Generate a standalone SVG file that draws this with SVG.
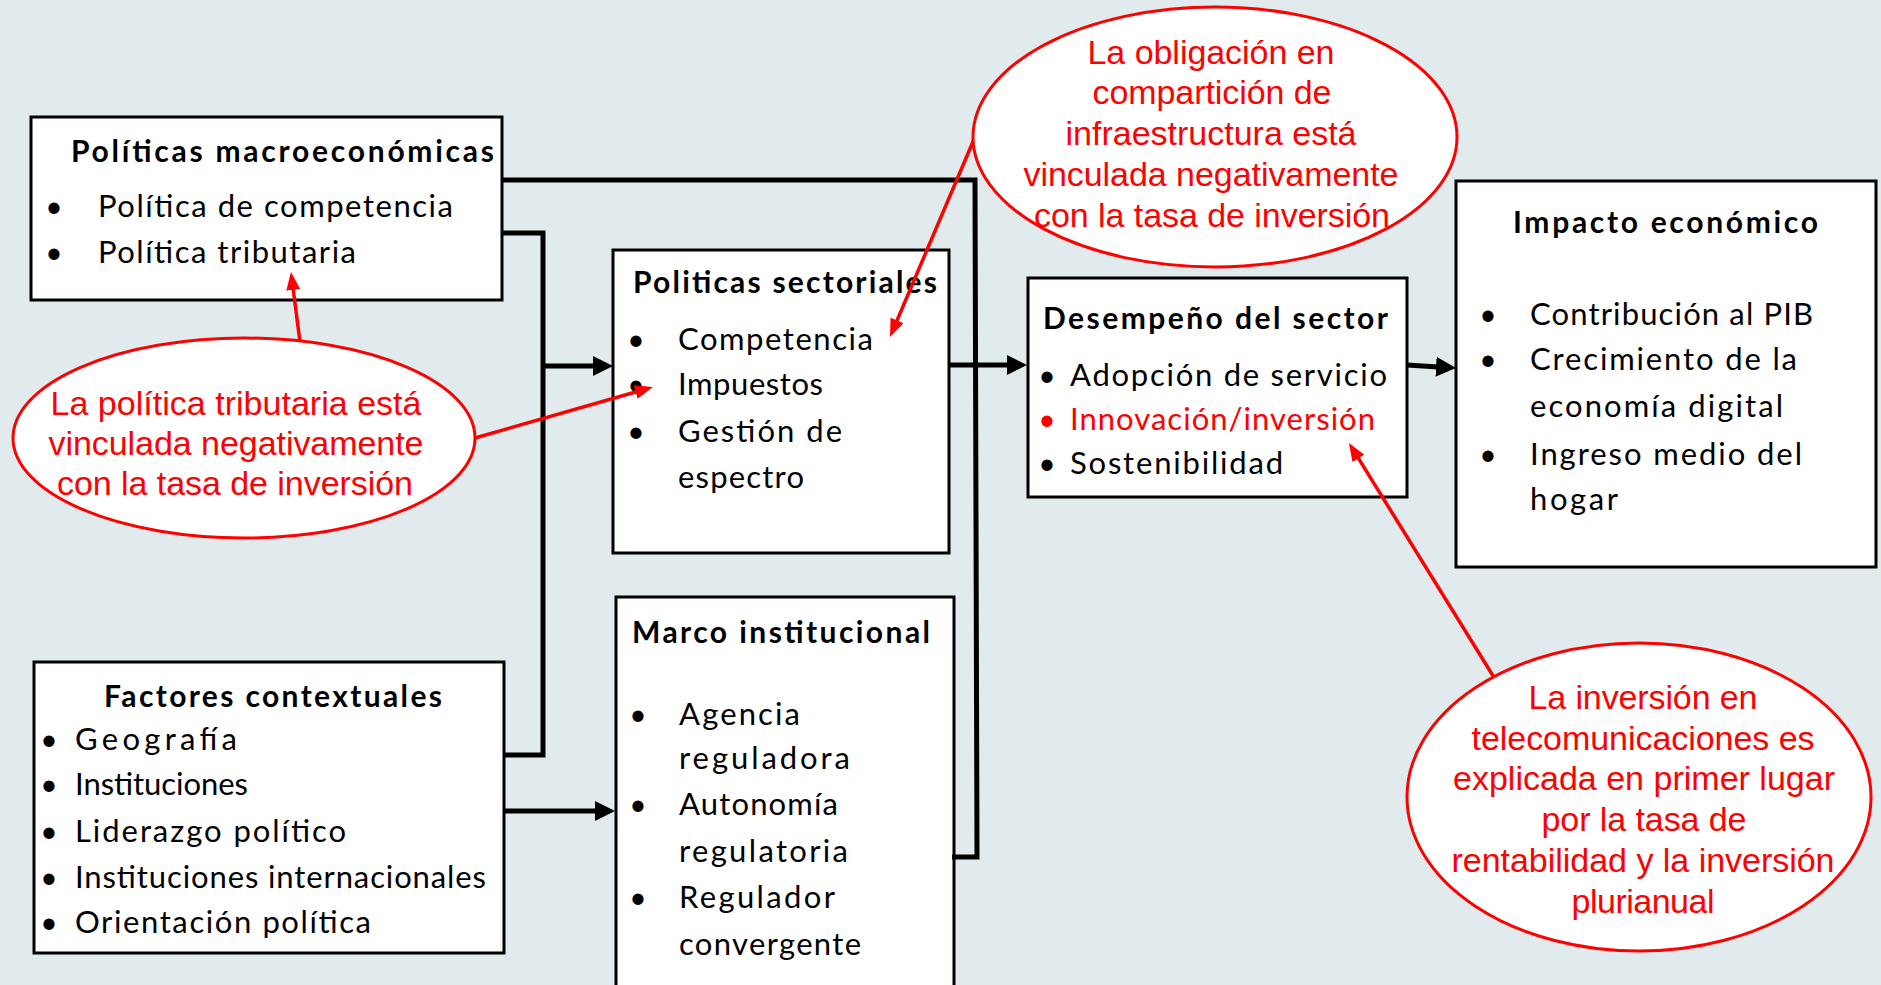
<svg xmlns="http://www.w3.org/2000/svg" width="1881" height="985" viewBox="0 0 1881 985">
<style>
.box{fill:#fff;stroke:#000;stroke-width:3}
.t{font-family:Lato,"Open Sans","Liberation Sans",sans-serif;font-size:31px;fill:#000}
.b{font-weight:bold;font-size:30px}
.red{fill:#ff0000}
.bul{font-family:Lato,"Liberation Sans",sans-serif;font-size:30px;text-anchor:middle}
.ell{fill:#fff;stroke:#ff0000;stroke-width:3}
.et{font-family:"Liberation Sans",Arial,sans-serif;font-size:34px;fill:#ff0000;text-anchor:middle}
.con{fill:none;stroke:#000;stroke-width:5}
.rc{fill:none;stroke:#ff0000;stroke-width:3.5}
</style>
<defs>
<marker id="ab" viewBox="0 0 20 20" markerWidth="20" markerHeight="20" refX="10" refY="10" orient="auto" markerUnits="userSpaceOnUse"><path d="M0,0 L20,10 L0,20 z" fill="#000"/></marker>
<marker id="ar" viewBox="0 0 18 14" markerWidth="18" markerHeight="14" refX="9" refY="7" orient="auto" markerUnits="userSpaceOnUse"><path d="M0,0 L18,7 L0,14 z" fill="#ff0000"/></marker>
</defs>
<rect x="0" y="0" width="1881" height="985" fill="#e1eaed"/>

<g id="macro">
<rect class="box" x="31" y="117" width="471" height="183"/>
<text class="t b" x="71" y="162" textLength="423">Políticas macroeconómicas</text>
<text class="bul" x="54" y="217">•</text>
<text class="t" x="98" y="217" textLength="355">Política de competencia</text>
<text class="bul" x="54" y="263">•</text>
<text class="t" x="98" y="263" textLength="258">Política tributaria</text>
</g>

<g id="sectoriales">
<rect class="box" x="613" y="250" width="336" height="303"/>
<text class="t b" x="633" y="293" textLength="304">Politicas sectoriales</text>
<text class="bul" x="636" y="350">•</text>
<text class="t" x="678" y="350" textLength="195">Competencia</text>
<text class="bul" x="636" y="395">•</text>
<text class="t" x="678" y="395" textLength="145">Impuestos</text>
<text class="bul" x="636" y="442">•</text>
<text class="t" x="678" y="442" textLength="164">Gestión de</text>
<text class="t" x="678" y="488" textLength="126">espectro</text>
</g>

<g id="marco">
<rect class="box" x="616" y="597" width="338" height="410"/>
<text class="t b" x="632" y="643" textLength="298">Marco institucional</text>
<text class="bul" x="638" y="725">•</text>
<text class="t" x="679" y="725" textLength="121">Agencia</text>
<text class="t" x="679" y="769" textLength="171">reguladora</text>
<text class="bul" x="638" y="815">•</text>
<text class="t" x="679" y="815" textLength="159">Autonomía</text>
<text class="t" x="679" y="862" textLength="169">regulatoria</text>
<text class="bul" x="638" y="908">•</text>
<text class="t" x="679" y="908" textLength="156">Regulador</text>
<text class="t" x="679" y="955" textLength="182">convergente</text>
</g>

<g id="desempeno">
<rect class="box" x="1028" y="278" width="379" height="219"/>
<text class="t b" x="1043" y="329" textLength="345">Desempeño del sector</text>
<text class="bul" x="1047" y="386">•</text>
<text class="t" x="1070" y="386" textLength="317">Adopción de servicio</text>
<text class="bul red" x="1047" y="430">•</text>
<text class="t red" x="1070" y="430" textLength="305">Innovación/inversión</text>
<text class="bul" x="1047" y="474">•</text>
<text class="t" x="1070" y="474" textLength="213">Sostenibilidad</text>
</g>

<g id="impacto">
<rect class="box" x="1456" y="181" width="420" height="386"/>
<text class="t b" x="1513" y="233" textLength="305">Impacto económico</text>
<text class="bul" x="1488" y="325">•</text>
<text class="t" x="1530" y="325" textLength="283">Contribución al PIB</text>
<text class="bul" x="1488" y="370">•</text>
<text class="t" x="1530" y="370" textLength="267">Crecimiento de la</text>
<text class="t" x="1530" y="417" textLength="253">economía digital</text>
<text class="bul" x="1488" y="465">•</text>
<text class="t" x="1530" y="465" textLength="272">Ingreso medio del</text>
<text class="t" x="1530" y="510" textLength="88">hogar</text>
</g>

<g id="factores">
<rect class="box" x="34" y="662" width="470" height="291"/>
<text class="t b" x="104" y="707" textLength="338">Factores contextuales</text>
<text class="bul" x="49" y="750">•</text>
<text class="t" x="75" y="750" textLength="162">Geografía</text>
<text class="bul" x="49" y="795">•</text>
<text class="t" x="75" y="795" textLength="173">Instituciones</text>
<text class="bul" x="49" y="842">•</text>
<text class="t" x="75" y="842" textLength="271">Liderazgo político</text>
<text class="bul" x="49" y="888">•</text>
<text class="t" x="75" y="888" textLength="411">Instituciones internacionales</text>
<text class="bul" x="49" y="933">•</text>
<text class="t" x="75" y="933" textLength="296">Orientación política</text>
</g>

<g id="connectors">
<path class="con" d="M502,180 H975 L977,857 H952"/>
<path class="con" d="M502,233 H543 V755 H504"/>
<line class="con" x1="543" y1="366" x2="603" y2="366" marker-end="url(#ab)"/>
<line class="con" x1="504" y1="811" x2="605" y2="811" marker-end="url(#ab)"/>
<line class="con" x1="949" y1="365" x2="1017" y2="365" marker-end="url(#ab)"/>
<line class="con" x1="1407" y1="365" x2="1446" y2="367.4" marker-end="url(#ab)"/>
<line class="rc" x1="300" y1="342" x2="292.1" y2="280.9" marker-end="url(#ar)"/>
<line class="rc" x1="475" y1="438" x2="644.3" y2="389.5" marker-end="url(#ar)"/>
<line class="rc" x1="975" y1="137" x2="893.5" y2="328.7" marker-end="url(#ar)"/>
<line class="rc" x1="1495" y1="679" x2="1353.7" y2="450.7" marker-end="url(#ar)"/>
</g>

<g id="nota-tributaria">
<ellipse class="ell" cx="244" cy="438" rx="231" ry="100"/>
<text class="et" x="236" y="415" textLength="371">La política tributaria está</text>
<text class="et" x="236" y="455" textLength="375">vinculada negativamente</text>
<text class="et" x="235" y="495" textLength="356">con la tasa de inversión</text>
</g>

<g id="nota-comparticion">
<ellipse class="ell" cx="1215" cy="137" rx="242" ry="130"/>
<text class="et" x="1211" y="64" textLength="247">La obligación en</text>
<text class="et" x="1212" y="104" textLength="239">compartición de</text>
<text class="et" x="1211" y="145" textLength="291">infraestructura está</text>
<text class="et" x="1211" y="186" textLength="375">vinculada negativamente</text>
<text class="et" x="1212" y="227" textLength="356">con la tasa de inversión</text>
</g>

<g id="nota-inversion">
<ellipse class="ell" cx="1639" cy="797" rx="232" ry="154"/>
<text class="et" x="1643" y="709" textLength="229">La inversión en</text>
<text class="et" x="1643" y="750" textLength="343">telecomunicaciones es</text>
<text class="et" x="1644" y="790" textLength="382">explicada en primer lugar</text>
<text class="et" x="1644" y="831" textLength="205">por la tasa de</text>
<text class="et" x="1643" y="872" textLength="383">rentabilidad y la inversión</text>
<text class="et" x="1643" y="913" textLength="143">plurianual</text>
</g>
</svg>
